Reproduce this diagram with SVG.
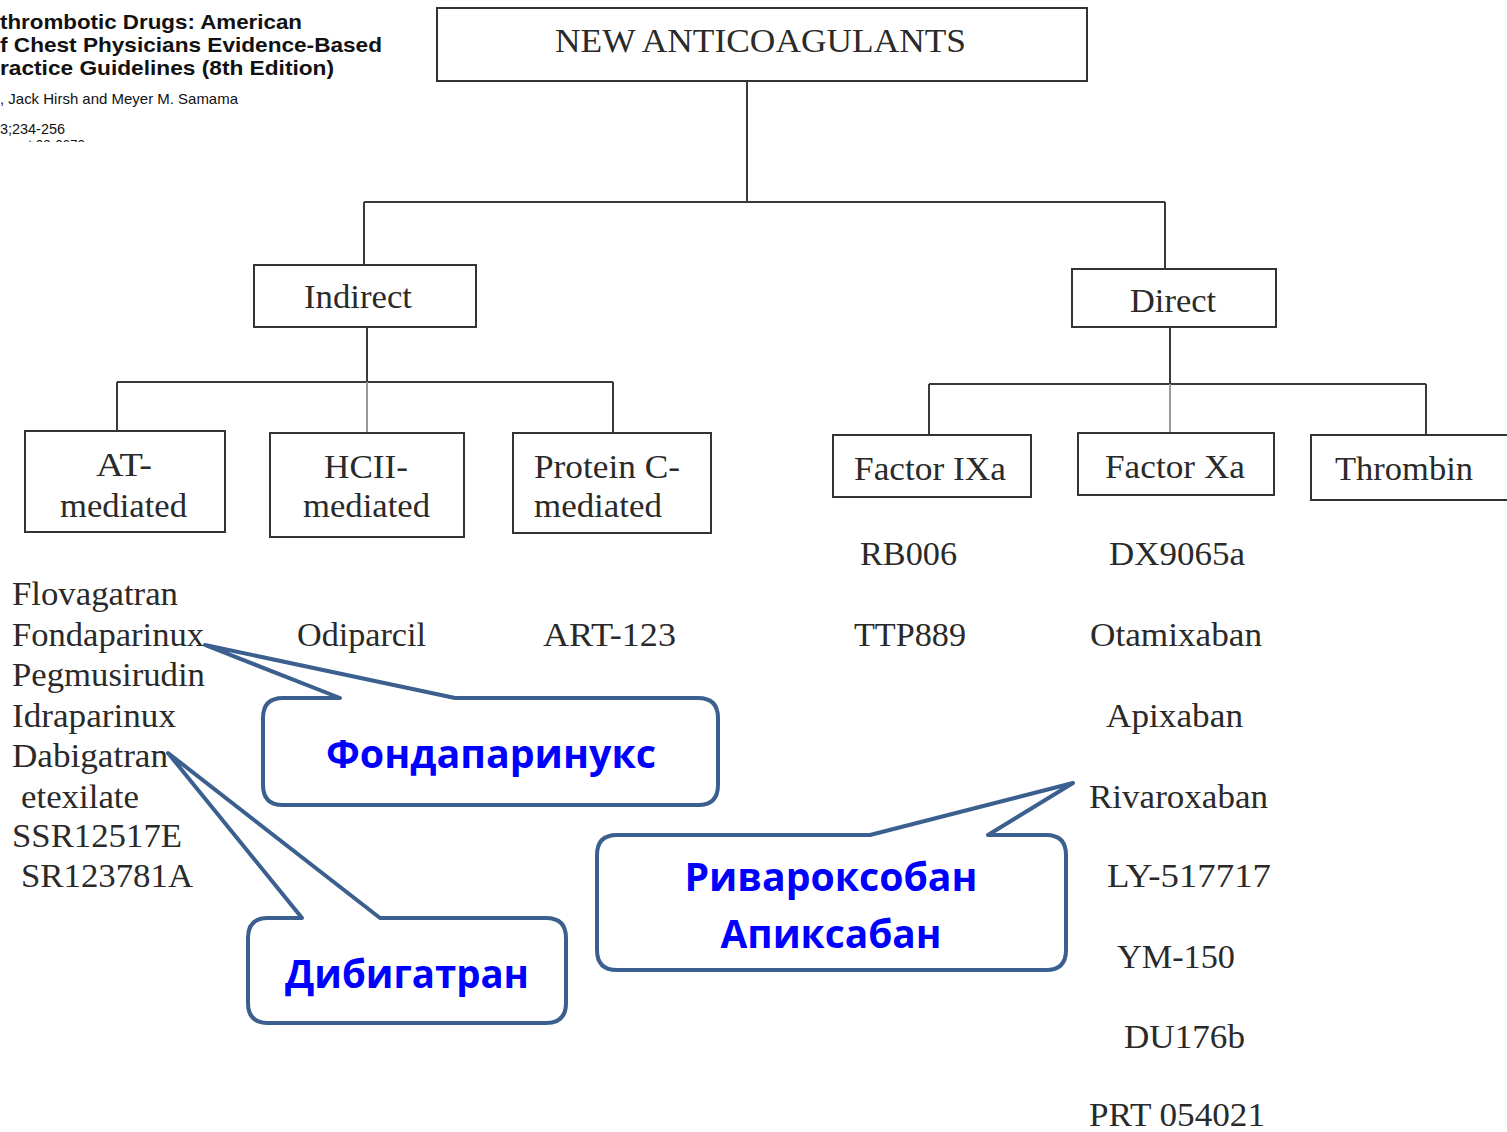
<svg xmlns="http://www.w3.org/2000/svg" width="1507" height="1132" viewBox="0 0 1507 1132">
<defs>
<style>
.box{fill:#fff;stroke:#333;stroke-width:2}
.ln{fill:none;stroke:#3a3a3a;stroke-width:2}
.lg{fill:none;stroke:#9a9a9a;stroke-width:2}
.t{font-family:"Liberation Serif","Times New Roman",serif;font-size:34px;fill:#2a2a2a}
.h{font-family:"Liberation Sans",Arial,sans-serif;font-weight:bold;font-size:21px;fill:#111}
.hs{font-family:"Liberation Sans",Arial,sans-serif;font-size:15px;fill:#111}
.co{fill:#fff;stroke:#3b5f8e;stroke-width:4;stroke-linejoin:round}
.ct{font-family:"Open Sans","Noto Sans","DejaVu Sans",sans-serif;font-weight:bold;font-size:40px;fill:#0000ff}
</style>
<clipPath id="hdr"><rect x="0" y="0" width="420" height="142"/></clipPath>
</defs>
<rect width="1507" height="1132" fill="#fff"/>

<g id="header" clip-path="url(#hdr)">
<text class="h" x="0" y="29" textLength="302" lengthAdjust="spacingAndGlyphs">thrombotic Drugs: American</text>
<text class="h" x="0" y="52" textLength="382" lengthAdjust="spacingAndGlyphs">f Chest Physicians Evidence-Based</text>
<text class="h" x="0" y="75" textLength="334" lengthAdjust="spacingAndGlyphs">ractice Guidelines (8th Edition)</text>
<text class="hs" x="0" y="104" textLength="238" lengthAdjust="spacingAndGlyphs">, Jack Hirsh and Meyer M. Samama</text>
<text class="hs" x="0" y="134" textLength="65" lengthAdjust="spacingAndGlyphs">3;234-256</text>
<text class="hs" x="0" y="150" textLength="85" lengthAdjust="spacingAndGlyphs">ceest.08-0673</text>
</g>

<g id="connectors">
<path class="ln" d="M747,81 V202 M364,202 H1165 M364,202 V265 M1165,202 V269"/>
<path class="ln" d="M367,327 V382 M117,382 H613 M117,382 V431 M613,382 V433"/>
<path class="lg" d="M367,382 V433"/>
<path class="ln" d="M1170,327 V384 M929,384 H1426 M929,384 V435 M1426,384 V435"/>
<path class="lg" d="M1170,384 V433"/>
</g>

<g id="node-root">
<rect class="box" x="437" y="8" width="650" height="73"/>
<text class="t" x="555" y="52" textLength="411" lengthAdjust="spacingAndGlyphs">NEW ANTICOAGULANTS</text>
</g>
<g id="node-indirect">
<rect class="box" x="254" y="265" width="222" height="62"/>
<text class="t" x="304" y="308" textLength="108" lengthAdjust="spacingAndGlyphs">Indirect</text>
</g>
<g id="node-direct">
<rect class="box" x="1072" y="269" width="204" height="58"/>
<text class="t" x="1130" y="312" textLength="86" lengthAdjust="spacingAndGlyphs">Direct</text>
</g>
<g id="node-at">
<rect class="box" x="25" y="431" width="200" height="101"/>
<text class="t" x="96" y="476" textLength="56" lengthAdjust="spacingAndGlyphs">AT-</text>
<text class="t" x="60" y="517" textLength="127" lengthAdjust="spacingAndGlyphs">mediated</text>
</g>
<g id="node-hcii">
<rect class="box" x="270" y="433" width="194" height="104"/>
<text class="t" x="324" y="478" textLength="84" lengthAdjust="spacingAndGlyphs">HCII-</text>
<text class="t" x="303" y="517" textLength="127" lengthAdjust="spacingAndGlyphs">mediated</text>
</g>
<g id="node-proteinc">
<rect class="box" x="513" y="433" width="198" height="100"/>
<text class="t" x="534" y="478" textLength="146" lengthAdjust="spacingAndGlyphs">Protein C-</text>
<text class="t" x="534" y="517" textLength="128" lengthAdjust="spacingAndGlyphs">mediated</text>
</g>
<g id="node-f9a">
<rect class="box" x="833" y="435" width="198" height="62"/>
<text class="t" x="854" y="480" textLength="152" lengthAdjust="spacingAndGlyphs">Factor IXa</text>
</g>
<g id="node-f10a">
<rect class="box" x="1078" y="433" width="196" height="62"/>
<text class="t" x="1105" y="478" textLength="140" lengthAdjust="spacingAndGlyphs">Factor Xa</text>
</g>
<g id="node-thrombin">
<rect class="box" x="1311" y="435" width="210" height="65"/>
<text class="t" x="1335" y="480" textLength="138" lengthAdjust="spacingAndGlyphs">Thrombin</text>
</g>

<g id="list-at">
<text class="t" x="12" y="605" textLength="166" lengthAdjust="spacingAndGlyphs">Flovagatran</text>
<text class="t" x="12" y="646" textLength="192" lengthAdjust="spacingAndGlyphs">Fondaparinux</text>
<text class="t" x="12" y="686" textLength="193" lengthAdjust="spacingAndGlyphs">Pegmusirudin</text>
<text class="t" x="12" y="727" textLength="164" lengthAdjust="spacingAndGlyphs">Idraparinux</text>
<text class="t" x="12" y="767" textLength="156" lengthAdjust="spacingAndGlyphs">Dabigatran</text>
<text class="t" x="21" y="808" textLength="118" lengthAdjust="spacingAndGlyphs">etexilate</text>
<text class="t" x="12" y="847" textLength="170" lengthAdjust="spacingAndGlyphs">SSR12517E</text>
<text class="t" x="21" y="887" textLength="172" lengthAdjust="spacingAndGlyphs">SR123781A</text>
</g>
<g id="list-hcii">
<text class="t" x="297" y="646" textLength="129" lengthAdjust="spacingAndGlyphs">Odiparcil</text>
</g>
<g id="list-proteinc">
<text class="t" x="543" y="646" textLength="133" lengthAdjust="spacingAndGlyphs">ART-123</text>
</g>
<g id="list-f9a">
<text class="t" x="860" y="565" textLength="97" lengthAdjust="spacingAndGlyphs">RB006</text>
<text class="t" x="854" y="646" textLength="112" lengthAdjust="spacingAndGlyphs">TTP889</text>
</g>
<g id="list-f10a">
<text class="t" x="1109" y="565" textLength="136" lengthAdjust="spacingAndGlyphs">DX9065a</text>
<text class="t" x="1090" y="646" textLength="172" lengthAdjust="spacingAndGlyphs">Otamixaban</text>
<text class="t" x="1106" y="727" textLength="137" lengthAdjust="spacingAndGlyphs">Apixaban</text>
<text class="t" x="1089" y="808" textLength="179" lengthAdjust="spacingAndGlyphs">Rivaroxaban</text>
<text class="t" x="1107" y="887" textLength="164" lengthAdjust="spacingAndGlyphs">LY-517717</text>
<text class="t" x="1117" y="968" textLength="118" lengthAdjust="spacingAndGlyphs">YM-150</text>
<text class="t" x="1124" y="1048" textLength="121" lengthAdjust="spacingAndGlyphs">DU176b</text>
<text class="t" x="1089" y="1126" textLength="176" lengthAdjust="spacingAndGlyphs">PRT 054021</text>
</g>

<g id="callout-fondaparinux">
<path class="co" d="M340,698 L205,645 L455,698 L698,698 Q718,698 718,718 L718,785 Q718,805 698,805 L283,805 Q263,805 263,785 L263,718 Q263,698 283,698 Z"/>
<text class="ct" x="491" y="768" text-anchor="middle" textLength="330" lengthAdjust="spacingAndGlyphs">Фондапаринукс</text>
</g>
<g id="callout-dabigatran">
<path class="co" d="M302,918 L168,753 L380,918 L546,918 Q566,918 566,938 L566,1003 Q566,1023 546,1023 L268,1023 Q248,1023 248,1003 L248,938 Q248,918 268,918 Z"/>
<text class="ct" x="407" y="988" text-anchor="middle" textLength="244" lengthAdjust="spacingAndGlyphs">Дибигатран</text>
</g>
<g id="callout-rivaroxaban">
<path class="co" d="M870,835 L1073,783 L988,835 L1046,835 Q1066,835 1066,855 L1066,950 Q1066,970 1046,970 L617,970 Q597,970 597,950 L597,855 Q597,835 617,835 Z"/>
<text class="ct" x="831" y="891" text-anchor="middle" textLength="293" lengthAdjust="spacingAndGlyphs">Ривароксобан</text>
<text class="ct" x="831" y="948" text-anchor="middle" textLength="221" lengthAdjust="spacingAndGlyphs">Апиксабан</text>
</g>
</svg>
